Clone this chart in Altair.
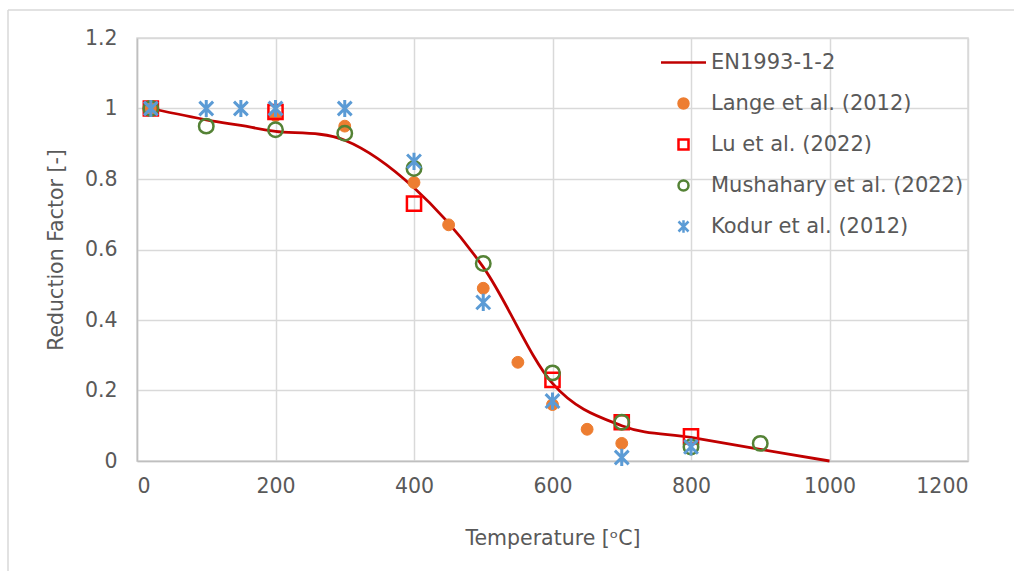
import altair as alt
import pandas as pd

# EN1993-1-2 reduction curve
en_temp = [20, 100, 150, 200, 300, 400, 500, 600, 700, 800, 900, 1000]
en_factor = [1.0, 0.968, 0.952, 0.935, 0.91, 0.775, 0.55, 0.22, 0.10, 0.067, 0.033, 0.0]

# Test results
lange_temp = [20, 200, 300, 400, 450, 500, 550, 600, 650, 700]
lange_factor = [1.0, 0.98, 0.95, 0.79, 0.67, 0.49, 0.28, 0.16, 0.09, 0.05]

lu_temp = [20, 200, 400, 600, 700, 800]
lu_factor = [1.0, 0.99, 0.73, 0.23, 0.11, 0.07]

mush_temp = [20, 100, 200, 300, 400, 500, 600, 700, 800, 900]
mush_factor = [1.0, 0.95, 0.94, 0.93, 0.83, 0.56, 0.25, 0.11, 0.04, 0.05]

kodur_temp = [20, 100, 150, 200, 300, 400, 500, 600, 700, 800]
kodur_factor = [1.0, 1.0, 1.0, 1.0, 1.0, 0.85, 0.45, 0.17, 0.01, 0.04]

series_names = [
    "EN1993-1-2",
    "Lange et al. (2012)",
    "Lu et al. (2022)",
    "Mushahary et al. (2022)",
    "Kodur et al. (2012)",
]
stroke_colors = ["#C00000", "#ED7D31", "#FF0000", "#548235", "#5B9BD5"]
fill_colors = ["transparent", "#ED7D31", "transparent", "transparent", "transparent"]
asterisk = "M-1,-1L1,1M-1,1L1,-1M0,-1.25L0,1.25"
shapes = ["M-4.5,0L4.5,0", "circle", "square", "circle", asterisk]

font = "DejaVu Sans"
text_color = "#595959"

legend = alt.Legend(
    title=None,
    orient="none",
    legendX=536,
    legendY=14,
    labelFontSize=21,
    labelFont=font,
    labelColor=text_color,
    labelLimit=0,
    symbolSize=100,
    symbolStrokeWidth=2.5,
    rowPadding=19,
    labelOffset=17,
    padding=0,
)

x_enc = alt.X(
    "temp:Q",
    scale=alt.Scale(domain=[0, 1200], nice=False),
    axis=alt.Axis(
        values=[0, 200, 400, 600, 800, 1000, 1200],
        format="d",
        title="Temperature [ᵒC]",
        titlePadding=32,
        labelPadding=15,
    ),
)
y_enc = alt.Y(
    "factor:Q",
    scale=alt.Scale(domain=[0, 1.2], nice=False),
    axis=alt.Axis(
        values=[0, 0.2, 0.4, 0.6, 0.8, 1.0, 1.2],
        format="~g",
        title="Reduction Factor [-]",
        titlePadding=18,
        labelPadding=20,
    ),
)

stroke_enc = alt.Stroke("series:N", scale=alt.Scale(domain=series_names, range=stroke_colors), legend=legend)
fill_enc = alt.Fill("series:N", scale=alt.Scale(domain=series_names, range=fill_colors), legend=legend)
shape_enc = alt.Shape("series:N", scale=alt.Scale(domain=series_names, range=shapes), legend=legend)

curve = pd.DataFrame({"temp": en_temp, "factor": en_factor, "series": series_names[0]})
line = (
    alt.Chart(curve)
    .mark_line(interpolate="cardinal", tension=0, strokeWidth=2.8)
    .encode(x=x_enc, y=y_enc, stroke=stroke_enc)
)

# One point layer per test series, drawn in legend order
marker_style = {
    series_names[1]: dict(size=140, strokeWidth=1),
    series_names[2]: dict(size=200, strokeWidth=2.5),
    series_names[3]: dict(size=210, strokeWidth=2.5),
    series_names[4]: dict(size=190, strokeWidth=3),
}
test_data = [
    (series_names[1], lange_temp, lange_factor),
    (series_names[2], lu_temp, lu_factor),
    (series_names[3], mush_temp, mush_factor),
    (series_names[4], kodur_temp, kodur_factor),
]
point_layers = []
for name, temps, factors in test_data:
    df = pd.DataFrame({"temp": temps, "factor": factors, "series": name})
    point_layers.append(
        alt.Chart(df)
        .mark_point(filled=False, opacity=1, **marker_style[name])
        .encode(x=x_enc, y=y_enc, stroke=stroke_enc, fill=fill_enc, shape=shape_enc)
    )

# Outer chart frame
frame_df = pd.DataFrame({"k": [0]})
frame_left = alt.Chart(frame_df).mark_rule(color="#d9d9d9", strokeWidth=1.5).encode(
    x=alt.value(-129), y=alt.value(-28), y2=alt.value(533)
)
frame_top = alt.Chart(frame_df).mark_rule(color="#d9d9d9", strokeWidth=1.5).encode(
    x=alt.value(-129), x2=alt.value(877), y=alt.value(-28)
)

chart = (
    alt.layer(frame_left, frame_top, line, *point_layers)
    .properties(
        width=831,
        height=423,
        autosize=alt.AutoSizeParams(type="none"),
        padding={"left": 137, "top": 38, "right": 46, "bottom": 110},
        background="white",
    )
    .configure_view(stroke="#d9d9d9", strokeWidth=1.5)
    .configure_axis(
        labelFont=font,
        titleFont=font,
        labelFontSize=20.5,
        titleFontSize=20.5,
        labelColor=text_color,
        titleColor=text_color,
        titleFontWeight="normal",
        gridColor="#d9d9d9",
        gridWidth=1.5,
        domainColor="#bfbfbf",
        domainWidth=1.5,
        ticks=False,
    )
)

chart.save("out.html", embed_options={"renderer": "svg", "actions": False})
